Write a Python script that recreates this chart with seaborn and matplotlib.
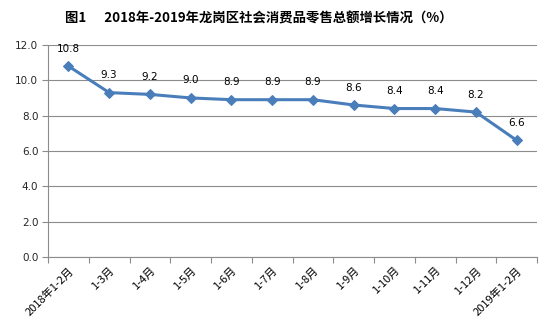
import matplotlib
matplotlib.use("Agg")
import matplotlib.pyplot as plt
import seaborn as sns
import pandas as pd
import numpy as np

categories = ["2018年1-2月", "1-3月", "1-4月", "1-5月", "1-6月", "1-7月",
              "1-8月", "1-9月", "1-10月", "1-11月", "1-12月", "2019年1-2月"]
growth = [10.8, 9.3, 9.2, 9.0, 8.9, 8.9, 8.9, 8.6, 8.4, 8.4, 8.2, 6.6]
y_ticks = [0.0, 2.0, 4.0, 6.0, 8.0, 10.0, 12.0]
title = "图1      2018年-2019年龙岗区社会消费品零售总额增长情况（%）"

sns.set_theme(style="white")
plt.rcParams["font.family"] = ["Noto Sans CJK SC", "DejaVu Sans"]

df = pd.DataFrame({"idx": np.arange(len(categories)), "value": growth})

fig = plt.figure(figsize=(5.52, 3.30), dpi=100)
ax = fig.add_axes([0.087, 0.221, 0.886, 0.643])

line_color = "#4a7ebb"
sns.lineplot(data=df, x="idx", y="value", ax=ax, color=line_color, linewidth=2.2,
             marker="D", markersize=5.5, markeredgecolor=line_color,
             markerfacecolor=line_color)

for i, v in zip(df["idx"], df["value"]):
    ax.annotate(f"{v:.1f}", (i, v), xytext=(0, 9), textcoords="offset points",
                ha="center", va="bottom", fontsize=7.5, color="black",
                family=["DejaVu Sans"])

ax.set_xlim(-0.5, len(categories) - 0.5)
ax.set_ylim(0, 12)
ax.set_yticks(y_ticks)
ax.set_yticklabels([f"{t:.1f}" for t in y_ticks], fontsize=7.5, family=["DejaVu Sans"])
ax.yaxis.grid(True, color="#8c8c8c", linewidth=0.8)
ax.set_axisbelow(True)

ax.set_xticks(np.arange(len(categories)))
ax.set_xticklabels(categories, rotation=45, ha="right", rotation_mode="anchor",
                   fontsize=8, color="black")
ax.set_xticks(np.arange(-0.5, len(categories)), minor=True)
ax.tick_params(axis="x", which="major", length=0, pad=6)
ax.tick_params(axis="x", which="minor", length=4, color="#8c8c8c", width=0.8,
               direction="out", bottom=True)
ax.tick_params(axis="y", length=4, color="#8c8c8c", width=0.8, left=True, pad=3)

for side in ["top", "right"]:
    ax.spines[side].set_visible(False)
for side in ["left", "bottom"]:
    ax.spines[side].set_color("#8c8c8c")
    ax.spines[side].set_linewidth(0.8)

ax.set_xlabel("")
ax.set_ylabel("")

fig.text(0.468, 0.945, title, ha="center", va="center", fontsize=9.6,
         fontweight="bold", color="black")

fig.savefig("out.png", dpi=100)
